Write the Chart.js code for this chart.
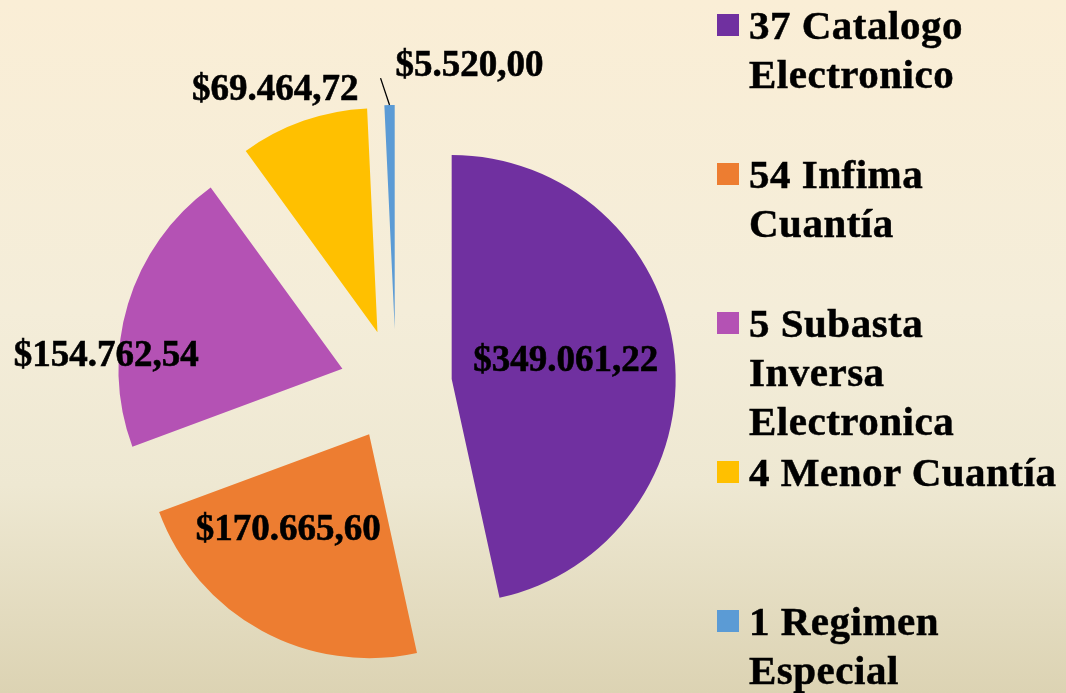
<!DOCTYPE html>
<html>
<head>
<meta charset="utf-8">
<script src="https://cdn.jsdelivr.net/npm/chart.js@4.4.1/dist/chart.umd.min.js"></script>
<style>
  html, body { margin: 0; padding: 0; }
  body {
    width: 1066px; height: 693px; overflow: hidden; position: relative;
    background: linear-gradient(to bottom, #FAEED6 0%, #F4EDD9 45%, #EEE8D2 70%, #DCD3B3 100%);
    font-family: "Liberation Serif", "Times New Roman", serif;
  }
  #chart { position: absolute; left: 0; top: 0; }
  #legend { position: absolute; left: 0; top: 0; width: 1066px; height: 693px; pointer-events: none; }
  .item { position: absolute; left: 717px; }
  .sw { position: absolute; left: 0; top: 13px; width: 22px; height: 22px; }
  .txt { position: absolute; left: 32px; top: 0; white-space: pre; font-weight: bold;
         font-size: 41px; line-height: 49px; letter-spacing: 0.5px; color: #000;
         -webkit-text-stroke: 0.5px #000; }
</style>
</head>
<body>
<canvas id="chart" width="1066" height="693"></canvas>
<div id="legend"></div>
<script>
// ---- data ----
const categories = ['37 Catalogo\nElectronico', '54 Infima\nCuantía', '5 Subasta\nInversa\nElectronica', '4 Menor Cuantía', '1 Regimen\nEspecial'];
const values = [349061.22, 170665.60, 154762.54, 69464.72, 5520.00];
const colors = ['#7030A0', '#ED7D31', '#B452B4', '#FFC000', '#5B9BD5'];

// ---- style ----
const EXPLODE = 56;
const RADIUS = 224;
// label placement relative to each slice: angular shift (deg) and radius fraction
const labelShift = [-3.8, 12.1, -13.2, -3.4, 17.1];
const labelFrac = [0.517, 0.554, 1.056, 1.181, 1.229];
const leaderFor = [false, false, false, false, true];

function fmtMoney(v) {
  const parts = v.toFixed(2).split('.');
  const int = parts[0].replace(/\B(?=(\d{3})+(?!\d))/g, '.');
  return '$' + int + ',' + parts[1];
}

const explodePlugin = {
  id: 'explode',
  beforeDatasetDraw(chart, args) {
    const ctx = chart.ctx;
    args.meta.data.forEach(arc => {
      const half = (arc.startAngle + arc.endAngle) / 2;
      ctx.save();
      ctx.translate(Math.cos(half) * EXPLODE, Math.sin(half) * EXPLODE);
      arc.draw(ctx);
      ctx.restore();
    });
    return false;
  }
};

const labelPlugin = {
  id: 'sliceLabels',
  afterDatasetsDraw(chart) {
    const ctx = chart.ctx;
    const meta = chart.getDatasetMeta(0);
    ctx.save();
    ctx.font = 'bold 37px "Liberation Serif", "Times New Roman", serif';
    ctx.fillStyle = '#000';
    ctx.textAlign = 'center';
    ctx.textBaseline = 'alphabetic';
    meta.data.forEach((arc, i) => {
      const half = (arc.startAngle + arc.endAngle) / 2;
      const vx = arc.x + Math.cos(half) * EXPLODE;
      const vy = arc.y + Math.sin(half) * EXPLODE;
      const a = half + labelShift[i] * Math.PI / 180;
      const r = arc.outerRadius * labelFrac[i];
      const lx = vx + Math.cos(a) * r;
      const ly = vy + Math.sin(a) * r;
      if (leaderFor[i]) {
        const sx = vx + Math.cos(half) * arc.outerRadius;
        const sy = vy + Math.sin(half) * arc.outerRadius;
        const ea = half - 1.9 * Math.PI / 180;
        const ex = vx + Math.cos(ea) * arc.outerRadius * 1.122;
        const ey = vy + Math.sin(ea) * arc.outerRadius * 1.122;
        ctx.beginPath();
        ctx.strokeStyle = '#000';
        ctx.lineWidth = 1.3;
        ctx.moveTo(sx, sy);
        ctx.lineTo(ex, ey);
        ctx.stroke();
      }
      const txt = fmtMoney(values[i]);
      ctx.fillText(txt, lx, ly + 12);
      ctx.lineWidth = 0.6;
      ctx.strokeStyle = '#000';
      ctx.strokeText(txt, lx, ly + 12);
    });
    ctx.restore();
  }
};

new Chart(document.getElementById('chart'), {
  type: 'pie',
  data: {
    labels: categories,
    datasets: [{
      data: values,
      backgroundColor: colors,
      borderWidth: 0,
      radius: RADIUS,
      clip: false
    }]
  },
  options: {
    responsive: false,
    animation: false,
    events: [],
    layout: { padding: { left: 0, right: 274, top: 77, bottom: 0 } },
    plugins: { legend: { display: false }, tooltip: { enabled: false } }
  },
  plugins: [explodePlugin, labelPlugin]
});

// ---- HTML legend ----
const legend = document.getElementById('legend');
const baseTop = 39 - 38.3;
const step = 149;
categories.forEach((c, i) => {
  const item = document.createElement('div');
  item.className = 'item';
  item.style.top = (baseTop + step * i) + 'px';
  const sw = document.createElement('div');
  sw.className = 'sw';
  sw.style.background = colors[i];
  const t = document.createElement('div');
  t.className = 'txt';
  t.textContent = c;
  item.appendChild(sw);
  item.appendChild(t);
  legend.appendChild(item);
});
</script>
</body>
</html>
